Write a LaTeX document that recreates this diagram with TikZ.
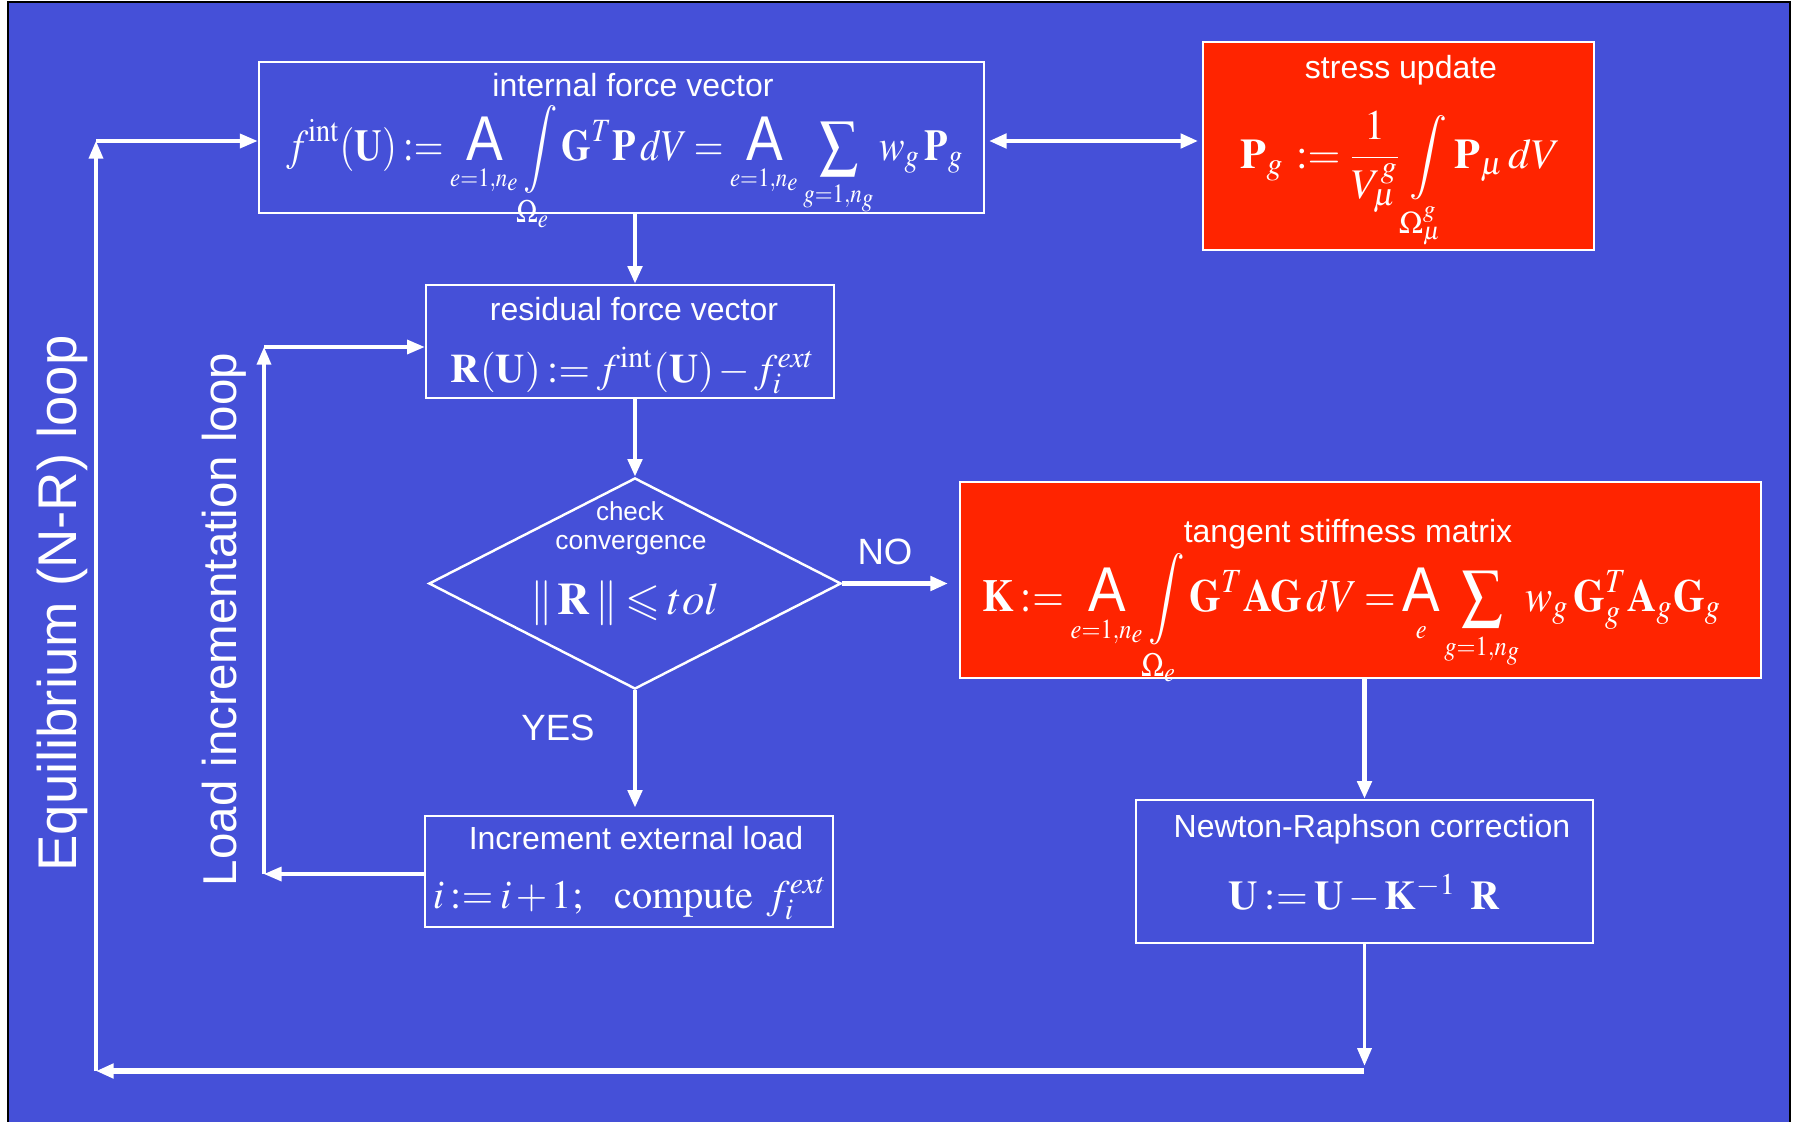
\documentclass[tikz,border=0pt]{standalone}
\usepackage{amsmath}
\usepackage{amssymb}
\usepackage{mathptmx}
\usepackage[no-math]{fontspec}
\newfontfamily\arialfont{Liberation Sans}
\usetikzlibrary{arrows.meta,shapes.geometric}

\definecolor{slideblue}{RGB}{69,80,216}
\definecolor{slidered}{RGB}{255,36,0}

% assembly operator
\newcommand{\Asm}[1]{\mathop{\hbox{\arialfont\fontsize{18pt}{18pt}\selectfont A}}\limits_{\scriptscriptstyle #1}}

\tikzset{
  box/.style={draw=white, line width=0.7pt, inner sep=0pt},
  redbox/.style={box, fill=slidered},
  title/.style={text=white, anchor=base, inner sep=0pt, font=\arialfont\fontsize{9.1pt}{11pt}\selectfont},
  formula/.style={text=white, anchor=base, inner sep=0pt,
    execute at begin node={\thickmuskip=3mu plus 1mu\medmuskip=2mu plus 1mu}},
  arr/.style={white, line width=1.3pt, -{Triangle[length=5pt,width=4pt]}},
}

\begin{document}
\begin{tikzpicture}[x=0.01cm, y=-0.01cm]
    \useasboundingbox (0,0) rectangle (1797,1121);
    \fill[white] (0,0) rectangle (1797,1121);
    \filldraw[fill=slideblue, draw=black, line width=0.6pt] (8,2) rectangle (1790,1140);

    % boxes
    \node[box, minimum width=7.25cm, minimum height=1.51cm] (int) at (621.5,137.5) {};
    \node[redbox, minimum width=3.91cm, minimum height=2.08cm] (str) at (1398.5,146) {};
    \node[box, minimum width=4.08cm, minimum height=1.13cm] (res) at (630,341.5) {};
    \node[draw=white, line width=0.7pt, diamond, inner sep=0pt, minimum width=4.12cm, minimum height=2.11cm] (dia) at (635,583.5) {};
    \node[redbox, minimum width=8.01cm, minimum height=1.96cm] (tan) at (1360.5,580) {};
    \node[box, minimum width=4.08cm, minimum height=1.11cm] (inc) at (629,871.5) {};
    \node[box, minimum width=4.57cm, minimum height=1.43cm] (nr) at (1364.5,871.5) {};

    % titles
    \node[title] (intT) at (633,97) {internal force vector};
    \node[title] (strT) at (1401,78) {stress update};
    \node[title] (resT) at (634,320) {residual force vector};
    \node[title, font=\arialfont\fontsize{7.4pt}{9pt}\selectfont] (diaT1) at (630,520) {check};
    \node[title, font=\arialfont\fontsize{7.5pt}{9pt}\selectfont] (diaT2) at (631,549) {convergence};
    \node[title] (tanT) at (1348,542) {tangent stiffness matrix};
    \node[title] (incT) at (636,849) {Increment external load};
    \node[title] (nrT) at (1372,837) {Newton-Raphson correction};

    % formulas
    \node[formula, font=\fontsize{12.5pt}{15pt}\selectfont] (intF) at (625,160)
        {\scalebox{0.87}[1]{$\displaystyle f^{\mathrm{int}}(\mathbf{U}) := \Asm{e=1,n_e}\int\limits_{\Omega_e}\mathbf{G}^T\mathbf{P}\,dV = \Asm{e=1,n_e}\sum_{\scriptscriptstyle g=1,n_g} w_g\,\mathbf{P}_g$}};
    \node[formula, font=\fontsize{12pt}{15pt}\selectfont] (strF) at (1401,168)
        {$\displaystyle \mathbf{P}_g \,:= \frac{1}{V_\mu^g}\int\limits_{\Omega_\mu^g}\mathbf{P}_\mu\,dV$};
    \node[formula, font=\fontsize{11.5pt}{14pt}\selectfont] (resF) at (633,382)
        {$\mathbf{R(U)} := f^{\mathrm{int}}(\mathbf{U}) - f_i^{ext}$};
    \node[formula, font=\fontsize{12.8pt}{16pt}\selectfont] (diaF) at (625,614)
        {$\|\,\mathbf{R}\,\| \leqslant tol$};
    \node[formula, font=\fontsize{13pt}{16pt}\selectfont] (tanF) at (1352,611)
        {\scalebox{0.89}[1]{$\displaystyle \mathbf{K} := \Asm{e=1,n_e}\int\limits_{\Omega_e}\mathbf{G}^T\mathbf{AG}\,dV = \Asm{e}\sum_{\scriptscriptstyle g=1,n_g} w_g\,\mathbf{G}_g^T\mathbf{A}_g\mathbf{G}_g$}};
    \node[formula, font=\fontsize{11.5pt}{14pt}\selectfont] (incF) at (630,908)
        {$i := i+1;\ \ \mathrm{compute}\ f_i^{ext}$};
    \node[formula, font=\fontsize{11.6pt}{14pt}\selectfont] (nrF) at (1364,909)
        {$\mathbf{U} := \mathbf{U} - \mathbf{K}^{-1}\ \mathbf{R}$};

    % branch labels
    \node[title, font=\arialfont\fontsize{10.4pt}{12pt}\selectfont] (no) at (885,564) {NO};
    \node[title, font=\arialfont\fontsize{10.4pt}{12pt}\selectfont] (yes) at (558,740) {YES};

    % loop labels
    \node[title, rotate=90, font=\arialfont\fontsize{15.5pt}{18pt}\selectfont] (eqL) at (77,603.5) {Equilibrium (N-R) loop};
    \node[title, rotate=90, font=\arialfont\fontsize{13.5pt}{16pt}\selectfont] (ldL) at (236,619.5) {Load incrementation loop};

    % loop corners
    \coordinate (eqTL) at (96,141);
    \coordinate (eqBL) at (96,1071);
    \coordinate (eqBR) at (1364,1071);
    \coordinate (ldT) at (264,347);
    \coordinate (ldB) at (264,874);

    % connectors
    \draw[arr] (int.south -| dia.north) -- (res.north -| dia.north);
    \draw[arr] (res.south -| dia.north) -- (dia.north);
    \draw[arr, shorten >=3pt] (dia.east) -- (dia.east -| tan.west);
    \draw[arr, shorten >=2pt] (dia.south) -- (dia.south |- inc.north);
    \draw[arr] (tan.south -| nr.north) -- (nr.north);
    \draw[white, line width=1.3pt, {Triangle[length=5pt,width=4pt]}-{Triangle[length=5pt,width=4pt]}, shorten <=1pt, shorten >=1pt]
        (int.east |- eqTL) -- (str.west |- eqTL);

    \draw[arr, line width=0.9pt] (inc.west |- ldB) -- (ldB);
    \draw[arr, line width=0.9pt] (ldB) -- (ldT);
    \draw[arr, line width=0.9pt] (ldT) -- (ldT -| res.west);

    \draw[arr, line width=0.9pt, shorten >=1.5pt] (nr.south) -- (nr.south |- eqBR);
    \draw[arr, line width=1.6pt] (eqBR) -- (eqBL);
    \draw[arr, line width=0.9pt] (eqBL) -- (eqTL);
    \draw[arr, line width=0.9pt] (eqTL) -- (eqTL -| int.west);
\end{tikzpicture}
\end{document}
